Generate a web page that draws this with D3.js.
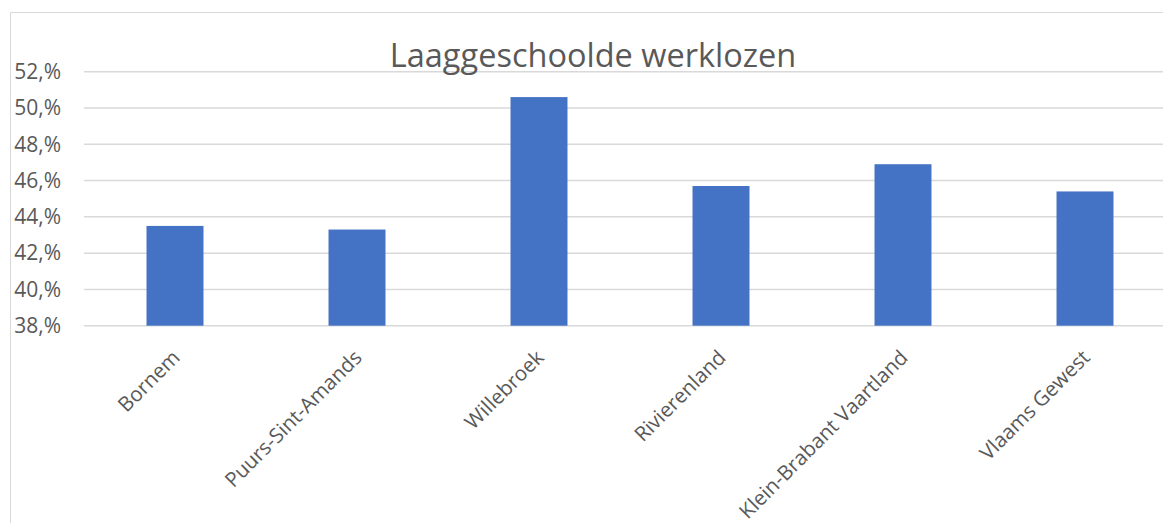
<!DOCTYPE html>
<html>
<head>
<meta charset="utf-8">
<script src="https://cdn.jsdelivr.net/npm/d3@7"></script>
<style>
  body { margin: 0; background: #fff; }
  text { font-family: "Open Sans", sans-serif; fill: #595959; }
</style>
</head>
<body>
<div id="chart"></div>
<script>
const categories = ["Bornem", "Puurs-Sint-Amands", "Willebroek", "Rivierenland", "Klein-Brabant Vaartland", "Vlaams Gewest"];
const values = [43.5, 43.3, 50.6, 45.7, 46.9, 45.4];
const yTicks = [38, 40, 42, 44, 46, 48, 50, 52];

let margin = { top: 71.7, left: 84 },
    width = 1092,
    height = 254;

let svg = d3.select("#chart")
    .append("svg")
    .attr("width", 1163)
    .attr("height", 523);

// chart border (left and top visible)
svg.append("path")
    .attr("d", "M10.5,523V12.5H1163")
    .attr("fill", "none")
    .attr("stroke", "#d9d9d9")
    .attr("stroke-width", 1);

let g = svg.append("g")
    .attr("transform", "translate(" + margin.left + "," + margin.top + ")");

let x = d3.scaleBand()
    .domain(categories)
    .range([0, width])
    .paddingInner(0.687)
    .paddingOuter(0.3435);

let y = d3.scaleLinear()
    .domain([38, 52])
    .range([height, 0]);

// gridlines
g.append("g")
    .selectAll("line")
    .data(yTicks)
    .enter()
    .append("line")
    .attr("x1", 0)
    .attr("x2", width)
    .attr("y1", d => y(d))
    .attr("y2", d => y(d))
    .attr("stroke", "#d9d9d9")
    .attr("stroke-width", 1.5);

// y labels
g.append("g")
    .selectAll("text")
    .data(yTicks)
    .enter()
    .append("text")
    .attr("x", -23)
    .attr("y", d => y(d))
    .attr("dy", "0.35em")
    .attr("text-anchor", "end")
    .style("font-size", "21px")
    .text(d => d + ",%");

// bars
g.selectAll("rect.bar")
    .data(values)
    .enter()
    .append("rect")
    .attr("class", "bar")
    .attr("x", (d, i) => x(categories[i]))
    .attr("y", d => y(d))
    .attr("width", x.bandwidth())
    .attr("height", d => height - y(d))
    .attr("fill", "#4472c4");

// category labels
g.append("g")
    .selectAll("text")
    .data(categories)
    .enter()
    .append("text")
    .attr("transform", d => "translate(" + (x(d) + x.bandwidth() / 2 + 1) + "," + (height + 28) + ")rotate(-45)")
    .attr("text-anchor", "end")
    .attr("dy", "0.35em")
    .style("font-size", "20.5px")
    .text(d => d);

// title
svg.append("text")
    .attr("x", 593)
    .attr("y", 67)
    .attr("text-anchor", "middle")
    .style("font-size", "32.5px")
    .text("Laaggeschoolde werklozen");
</script>
</body>
</html>
